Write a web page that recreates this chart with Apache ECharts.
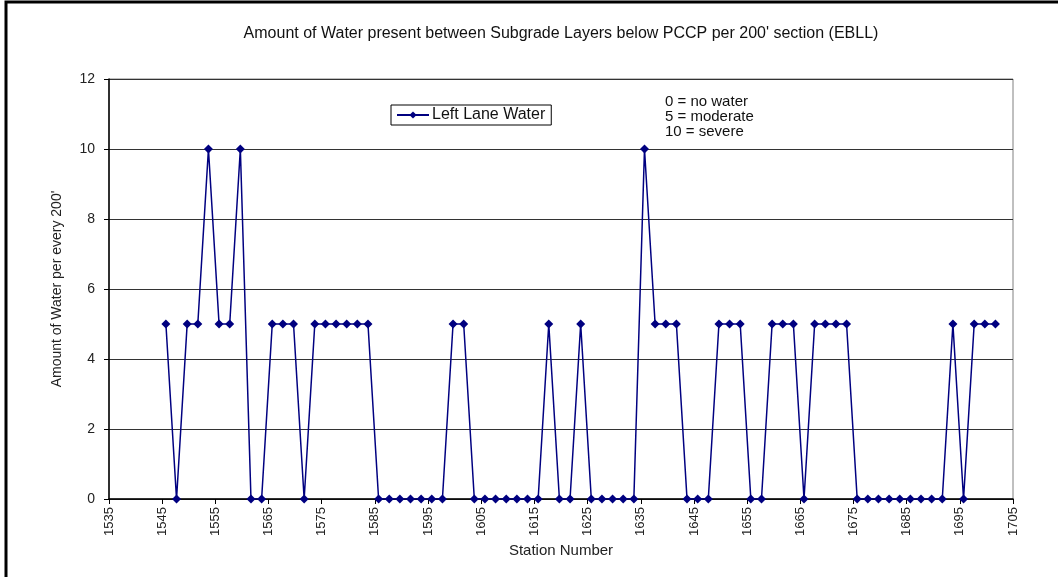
<!DOCTYPE html>
<html>
<head>
<meta charset="utf-8">
<script src="https://cdn.jsdelivr.net/npm/echarts@6/dist/echarts.min.js"></script>
<style>html,body{margin:0;padding:0;background:#fff}#c{width:1058px;height:577px}</style>
</head>
<body>
<div id="c"></div>
<script>
var titleText = "Amount of Water present between Subgrade Layers below PCCP per 200' section (EBLL)";
var seriesName = "Left Lane Water";
var xAxisName = "Station Number";
var yAxisName = "Amount of Water per every 200'";
var noteLines = ["0 = no water", "5 = moderate", "10 = severe"];
var xMin = 1535, xMax = 1705, xStep = 10;
var yMin = 0, yMax = 12, yStep = 2;
var stations = [1545.7,1547.7,1549.7,1551.7,1553.7,1555.7,1557.7,1559.7,1561.7,1563.7,
 1565.7,1567.7,1569.7,1571.7,1573.7,1575.7,1577.7,1579.7,1581.7,1583.7,
 1585.7,1587.7,1589.7,1591.7,1593.7,1595.7,1597.7,1599.7,1601.7,1603.7,
 1605.7,1607.7,1609.7,1611.7,1613.7,1615.7,1617.7,1619.7,1621.7,1623.7,
 1625.7,1627.7,1629.7,1631.7,1633.7,1635.7,1637.7,1639.7,1641.7,1643.7,
 1645.7,1647.7,1649.7,1651.7,1653.7,1655.7,1657.7,1659.7,1661.7,1663.7,
 1665.7,1667.7,1669.7,1671.7,1673.7,1675.7,1677.7,1679.7,1681.7,1683.7,
 1685.7,1687.7,1689.7,1691.7,1693.7,1695.7,1697.7,1699.7,1701.7];
var water = [5,0,5,5,10,5,5,10,0,0,
 5,5,5,0,5,5,5,5,5,5,
 0,0,0,0,0,0,0,5,5,0,
 0,0,0,0,0,0,5,0,0,5,
 0,0,0,0,0,10,5,5,5,0,
 0,0,5,5,5,0,0,5,5,5,
 0,5,5,5,5,0,0,0,0,0,
 0,0,0,0,5,0,5,5,5];

var chart = echarts.init(document.getElementById('c'), null, {renderer:'canvas'});
var font = 'Liberation Sans, Arial, sans-serif';
var data = stations.map(function(s,i){return [s, water[i]];});
chart.setOption({
  backgroundColor:'#fff',
  animation:false,
  title:{text:titleText, left:556, top:21, textAlign:'center',
    textStyle:{fontFamily:font, fontSize:16, fontWeight:'normal', color:'#111'}},
  legend:{left:391, top:105, itemWidth:32, itemHeight:9, itemGap:4,
    padding:[2,6,2,5], borderColor:'#000', borderWidth:1, backgroundColor:'#fff',
    textStyle:{fontFamily:font, fontSize:16, color:'#111', padding:[0,0,0,-2]},
    data:[seriesName]},
  grid:{left:109, right:45, top:79, bottom:78, show:true, borderColor:'#808080', borderWidth:1},
  xAxis:{type:'value', min:xMin, max:xMax, interval:xStep,
    name:xAxisName, nameLocation:'middle', nameGap:44,
    nameTextStyle:{fontFamily:font, fontSize:15, color:'#222'},
    axisLine:{lineStyle:{color:'#000', width:1.5}},
    axisTick:{show:true, length:5, lineStyle:{color:'#000'}},
    axisLabel:{rotate:90, fontFamily:font, fontSize:13, color:'#222', margin:8,
      formatter:function(v){return String(v);}},
    splitLine:{show:false}},
  yAxis:{type:'value', min:yMin, max:yMax, interval:yStep,
    name:yAxisName, nameLocation:'middle', nameGap:45,
    nameTextStyle:{fontFamily:font, fontSize:14, color:'#222'},
    axisLine:{show:true, lineStyle:{color:'#000', width:1.5}},
    axisTick:{show:true, length:5, lineStyle:{color:'#000'}},
    axisLabel:{fontFamily:font, fontSize:14, color:'#222', margin:14},
    splitLine:{show:true, lineStyle:{color:'#333', width:1}}},
  graphic:[
    {type:'rect', shape:{x:6, y:2, width:1100, height:650}, style:{fill:'none', stroke:'#000', lineWidth:3}, silent:true, z:-1},
    {type:'text', left:665, top:94, style:{text:noteLines.join('\n'), fontFamily:font, fontSize:15, lineHeight:15, fill:'#111'}}
  ],
  series:[{name:seriesName, type:'line', data:data, symbol:'diamond', symbolSize:9,
    showAllSymbol:true,
    lineStyle:{color:'#000080', width:1.5}, itemStyle:{color:'#000080'}}]
});
</script>
</body>
</html>
